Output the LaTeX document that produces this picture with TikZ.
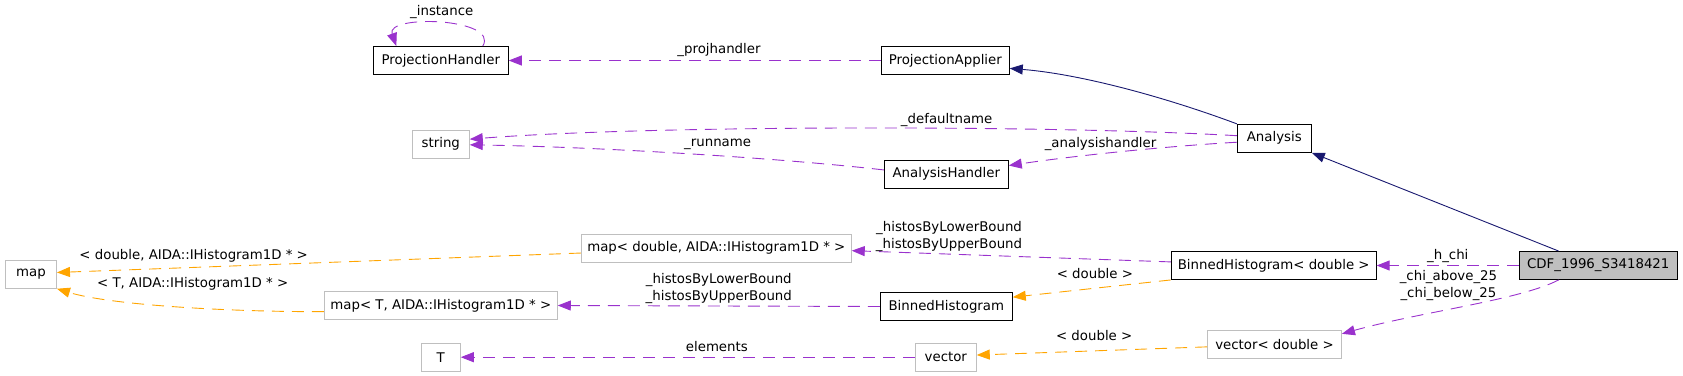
\documentclass[tikz,border=0pt]{standalone}
\usepackage{fontspec}
\setmainfont{DejaVu Sans}
\usepackage{xcolor}
\usetikzlibrary{arrows.meta, positioning}

\definecolor{relpurple}{HTML}{9A32CD}
\definecolor{tmplorange}{HTML}{FFA500}
\definecolor{basenavy}{HTML}{191970}
\definecolor{extgrey}{HTML}{BFBFBF}
\newcommand{\dgfont}{\fontsize{13.33}{17}\selectfont}

\begin{document}
\begin{tikzpicture}[
    x=1pt, y=-1pt,
    cls/.style={rectangle, draw=black, fill=white, line width=0.9pt, minimum height=28pt, inner xsep=4pt, text centered, font=\dgfont},
    extcls/.style={cls, draw=extgrey},
    lbl/.style={font=\dgfont, inner sep=0pt, align=center},
    tip/.style={-{Triangle[length=13pt,width=10pt]}},
    usage/.style={tip, draw=relpurple, line width=0.9pt, dash pattern=on 12pt off 8pt},
    templ/.style={usage, draw=tmplorange},
    inherit/.style={tip, draw=basenavy, line width=0.9pt}
]
    \useasboundingbox (0,0) rectangle (1683,375);

    \node (phandler) [cls, minimum width=135pt] at (440.8,60.5) {ProjectionHandler};
    \node (papplier) [cls, minimum width=128pt] at (945.3,60.5) {ProjectionApplier};
    \node (str) [extcls, minimum width=57pt] at (440.8,144.3) {string};
    \node (ahandler) [cls, minimum width=124pt] at (946.3,174.3) {AnalysisHandler};
    \node (analysis) [cls, minimum width=74pt] at (1274.3,138.3) {Analysis};
    \node (mapd) [extcls, minimum width=270pt] at (716.3,248.3) {map< double, AIDA::IHistogram1D * >};
    \node (map) [extcls, minimum width=51pt] at (31,274.3) {map};
    \node (mapt) [extcls, minimum width=233pt] at (440.8,305.5) {map< T, AIDA::IHistogram1D * >};
    \node (bh) [cls, minimum width=132pt] at (946.3,306.5) {BinnedHistogram};
    \node (bhd) [cls, minimum width=205pt] at (1273.7,265.5) {BinnedHistogram< double >};
    \node (cdf) [cls, fill=extgrey, minimum width=158pt] at (1598.3,265.5) {CDF\_1996\_S3418421};
    \node (t) [extcls, minimum width=39pt] at (440.8,357.2) {T};
    \node (vec) [extcls, minimum width=61pt] at (945.8,357.2) {vector};
    \node (vecd) [extcls, minimum width=134pt] at (1274.5,344.5) {vector< double >};

    % base classes
    \draw [inherit] (cdf.160) -- (analysis.south east);
    \draw [inherit] (analysis.north west) .. controls (1165,97) and (1080,74) .. (papplier.-7);

    % members
    \draw [usage] (phandler.19) .. controls (500,18) and (385,14) .. node[lbl, above=4.4pt] {\_instance} (phandler.162);
    \draw [usage] (papplier.west) -- node[lbl, pos=0.435, above=3.9pt] {\_projhandler} (phandler.east);
    \draw [usage] (analysis.176) .. controls (1050,125) and (650,125) .. node[lbl, pos=0.39, above=1pt] {\_defaultname} (str.10);
    \draw [usage] (ahandler.176) .. controls (780,158) and (600,147) .. node[lbl, pos=0.43, above=5.5pt] {\_runname} (str.-1);
    \draw [usage] (analysis.186) .. controls (1170,146) and (1080,155) .. node[lbl, pos=0.6, above=3pt] {\_analysishandler} (ahandler.8);
    \draw [usage] (bhd.178) -- node[lbl, pos=0.695, above=2.2pt] {\_histosByLowerBound\\\_histosByUpperBound} (mapd.-1);
    \draw [usage] (bh.west) -- node[lbl, pos=0.5, above=1.9pt] {\_histosByLowerBound\\\_histosByUpperBound} (mapt.east);
    \draw [usage] (vec.west) -- node[lbl, pos=0.436, above=5.5pt] {elements} (t.east);
    \draw [usage] (cdf.west) -- node[lbl, pos=0.5, above=2.6pt] {\_h\_chi} (bhd.east);
    \draw [usage] (cdf.200) .. controls (1520,300) and (1420,312) .. node[lbl, pos=0.5, xshift=-16.6pt, yshift=20.3pt] {\_chi\_above\_25\\\_chi\_below\_25} (vecd.9);

    % template instances
    \draw [templ] (bhd.south west) -- node[lbl, pos=0.48, above=9pt] {< double >} (bh.8);
    \draw [templ] (vecd.182) -- node[lbl, pos=0.49, above=9.9pt] {< double >} (vec.4);
    \draw [templ] (mapd.182) -- node[lbl, pos=0.739, above=4.7pt] {< double, AIDA::IHistogram1D * >} (map.4);
    \draw [templ] (mapt.183) .. controls (230,312) and (110,305) .. node[lbl, pos=0.44, above=17.2pt] {< T, AIDA::IHistogram1D * >} (map.south east);
\end{tikzpicture}
\end{document}
